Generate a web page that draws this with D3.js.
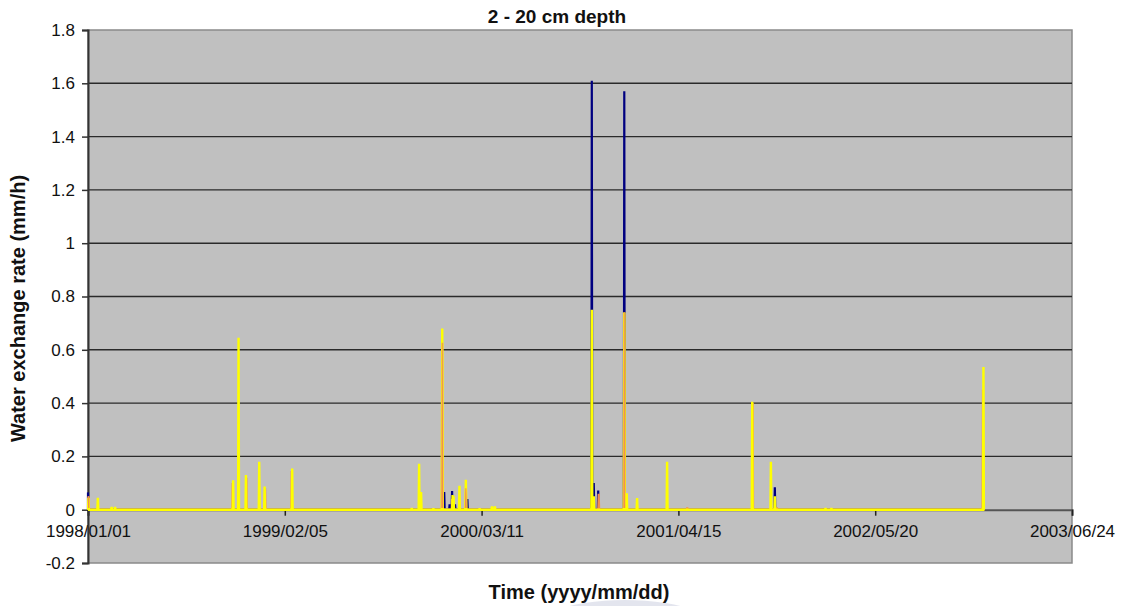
<!DOCTYPE html>
<html>
<head>
<meta charset="utf-8">
<script src="https://cdn.jsdelivr.net/npm/d3@7"></script>
<style>
  html, body { margin: 0; padding: 0; background: #ffffff; }
  svg { display: block; font-family: "Liberation Sans", Arial, Helvetica, sans-serif; }
</style>
</head>
<body>
<svg id="chart" width="1124" height="606"></svg>
<script>
// ---------------- data ----------------
const chartTitle = "2 - 20 cm depth";
const xAxisTitle = "Time (yyyy/mm/dd)";
const yAxisTitle = "Water exchange rate (mm/h)";

const xDomain = ["1998/01/01", "2003/06/24"];
const xTickLabels = ["1998/01/01", "1999/02/05", "2000/03/11", "2001/04/15", "2002/05/20", "2003/06/24"];
const yTickValues = [-0.2, 0, 0.2, 0.4, 0.6, 0.8, 1, 1.2, 1.4, 1.6, 1.8];
const yTickLabels = ["-0.2", "0", "0.2", "0.4", "0.6", "0.8", "1", "1.2", "1.4", "1.6", "1.8"];

const seriesStart = "1998/01/01";
const seriesEnd = "2002/12/28";

// series 1 (navy) : event dates and peak values
const navyDates = ["1998/01/01", "1999/12/26", "2000/01/06", "2000/01/11", "2000/01/17", "2000/02/11",
                   "2000/10/21", "2000/10/25", "2000/11/03", "2000/12/26", "2001/10/28"];
const navyValues = [0.065, 0.066, 0.02, 0.07, 0.02, 0.04,
                    1.61, 0.10, 0.072, 1.57, 0.084];

// series 2 (orange)
const orangeDates = ["1998/01/02", "1998/10/22", "1998/11/19", "1998/12/27", "1999/02/19", "1999/12/22",
                     "2000/01/11", "2000/02/08", "2000/11/04", "2000/12/26", "2001/05/03", "2001/09/13",
                     "2001/11/01", "2002/12/25"];
const orangeValues = [0.05, 0.10, 0.12, 0.08, 0.145, 0.626,
                      0.04, 0.08, 0.06, 0.74, 0.008, 0.40,
                      0.008, 0.45];

// series 3 (yellow)
const yellowDates = ["1998/01/02", "1998/01/21", "1998/02/18", "1998/02/25", "1998/10/23", "1998/11/03",
                     "1998/11/18", "1998/12/15", "1998/12/26", "1999/02/20", "1999/10/21", "1999/11/05",
                     "1999/11/09", "1999/12/04", "1999/12/22", "2000/01/12", "2000/01/14", "2000/01/26",
                     "2000/02/08", "2000/03/07", "2000/04/01", "2000/04/07", "2000/10/21", "2000/10/25",
                     "2000/12/26", "2000/12/31", "2001/01/21", "2001/03/23", "2001/09/12", "2001/10/20",
                     "2001/10/28", "2002/02/08", "2002/02/20", "2002/12/26"];
const yellowValues = [0.045, 0.045, 0.01, 0.01, 0.11, 0.645,
                      0.13, 0.18, 0.087, 0.155, 0.006, 0.172,
                      0.066, 0.005, 0.68, 0.055, 0.05, 0.09,
                      0.112, 0.005, 0.012, 0.012, 0.75, 0.05,
                      0.74, 0.062, 0.044, 0.18, 0.405, 0.18,
                      0.05, 0.006, 0.006, 0.535];

// ---------------- layout ----------------
const W = 1124, H = 606;
const plot = { left: 88, right: 1072, top: 30, bottom: 563 };

const parse = d3.timeParse("%Y/%m/%d");
const svg = d3.select("#chart");

const x = d3.scaleTime()
  .domain(xDomain.map(parse))
  .range([plot.left, plot.right]);
const y = d3.scaleLinear()
  .domain([-0.2, 1.8])
  .range([plot.bottom, plot.top]);

// plot background
svg.append("rect")
  .attr("x", plot.left).attr("y", plot.top)
  .attr("width", plot.right - plot.left).attr("height", plot.bottom - plot.top)
  .attr("fill", "#c0c0c0")
  .attr("stroke", "#8a8a8a").attr("stroke-width", 1.5);

// faint decorative swoosh under x title
svg.append("ellipse")
  .attr("cx", 625).attr("cy", 640).attr("rx", 105).attr("ry", 40)
  .attr("fill", "#dcdfea").attr("opacity", 0.8);

// clip for series cores drawn above the zero line only
svg.append("defs").append("clipPath").attr("id", "aboveZero")
  .append("rect")
  .attr("x", plot.left).attr("y", plot.top)
  .attr("width", plot.right - plot.left)
  .attr("height", y(0) - plot.top - 1.6);

// gridlines
svg.append("g")
  .selectAll("line")
  .data(yTickValues.filter(v => v > 0 && v < 1.8))
  .join("line")
  .attr("x1", plot.left).attr("x2", plot.right)
  .attr("y1", d => y(d)).attr("y2", d => y(d))
  .attr("stroke", "#2a2a2a").attr("stroke-width", 1.4);

// x axis sits at 0
const xAxis = d3.axisBottom(x)
  .tickValues(xTickLabels.map(parse))
  .tickFormat((d, i) => xTickLabels[i])
  .tickSize(6).tickPadding(9);
const gx = svg.append("g")
  .attr("transform", `translate(0,${y(0)})`)
  .call(xAxis);
gx.select(".domain").attr("stroke", "#555").attr("stroke-width", 2);
gx.selectAll(".tick line").attr("stroke", "#222").attr("stroke-width", 1.5);
gx.selectAll(".tick text")
  .attr("fill", "#111")
  .style("font-size", "17px")
  .style("font-family", '"Liberation Sans", Arial, sans-serif');

// y axis
const yAxis = d3.axisLeft(y)
  .tickValues(yTickValues)
  .tickFormat((d, i) => yTickLabels[i])
  .tickSize(6).tickPadding(7);
const gy = svg.append("g")
  .attr("transform", `translate(${plot.left},0)`)
  .call(yAxis);
gy.select(".domain").attr("stroke", "#333").attr("stroke-width", 2);
gy.selectAll(".tick line").attr("stroke", "#333").attr("stroke-width", 1.5);
gy.selectAll(".tick text")
  .attr("fill", "#111")
  .style("font-size", "17px")
  .style("font-family", '"Liberation Sans", Arial, sans-serif');

// ---------------- series ----------------
const DAY = 24 * 3600 * 1000;
function buildSeries(dates, values) {
  const pts = [];
  const start = parse(seriesStart), end = parse(seriesEnd);
  const ev = dates.map((d, i) => ({ t: parse(d), v: values[i] })).sort((a, b) => a.t - b.t);
  pts.push({ t: start, v: 0 });
  ev.forEach(e => {
    pts.push({ t: new Date(+e.t - 0.9 * DAY), v: 0 });
    pts.push({ t: e.t, v: e.v });
    pts.push({ t: new Date(+e.t + 0.9 * DAY), v: 0 });
  });
  pts.push({ t: end, v: 0 });
  return pts.filter(p => p.t >= start && p.t <= end).sort((a, b) => a.t - b.t);
}

const line = d3.line()
  .x(d => x(d.t))
  .y(d => y(d.v));

const gs = svg.append("g");

// navy
gs.append("path")
  .attr("d", line(buildSeries(navyDates, navyValues)))
  .attr("fill", "none").attr("stroke", "#000080").attr("stroke-width", 2.2)
  .attr("stroke-linejoin", "miter").attr("stroke-miterlimit", 1);

// orange underneath (full)
gs.append("path")
  .attr("d", line(buildSeries(orangeDates, orangeValues)))
  .attr("fill", "none").attr("stroke", "#f09050").attr("stroke-width", 2.2)
  .attr("stroke-linejoin", "miter").attr("stroke-miterlimit", 1);

// yellow
gs.append("path")
  .attr("d", line(buildSeries(yellowDates, yellowValues)))
  .attr("fill", "none").attr("stroke", "#ffff00").attr("stroke-width", 2.4)
  .attr("stroke-linejoin", "miter").attr("stroke-miterlimit", 1);

// orange core showing through the yellow where both series peak on the same day
const sharedIdx = orangeDates.map((d, i) => i).filter(i => yellowDates.includes(orangeDates[i]));
gs.append("path")
  .attr("clip-path", "url(#aboveZero)")
  .attr("d", line(buildSeries(sharedIdx.map(i => orangeDates[i]), sharedIdx.map(i => orangeValues[i]))))
  .attr("fill", "none").attr("stroke", "#f09050").attr("stroke-width", 1.1)
  .attr("stroke-linejoin", "miter").attr("stroke-miterlimit", 1);

// ---------------- titles ----------------
svg.append("text")
  .attr("x", 557).attr("y", 23)
  .attr("text-anchor", "middle")
  .style("font-size", "19px").style("font-weight", "bold")
  .attr("fill", "#111")
  .text(chartTitle);

svg.append("text")
  .attr("x", 579).attr("y", 599)
  .attr("text-anchor", "middle")
  .style("font-size", "20px").style("font-weight", "bold")
  .attr("fill", "#111")
  .text(xAxisTitle);

svg.append("text")
  .attr("transform", `translate(25,${(plot.top + plot.bottom) / 2 + 12}) rotate(-90)`)
  .attr("text-anchor", "middle")
  .style("font-size", "20px").style("font-weight", "bold")
  .attr("fill", "#111")
  .text(yAxisTitle);
</script>
</body>
</html>
